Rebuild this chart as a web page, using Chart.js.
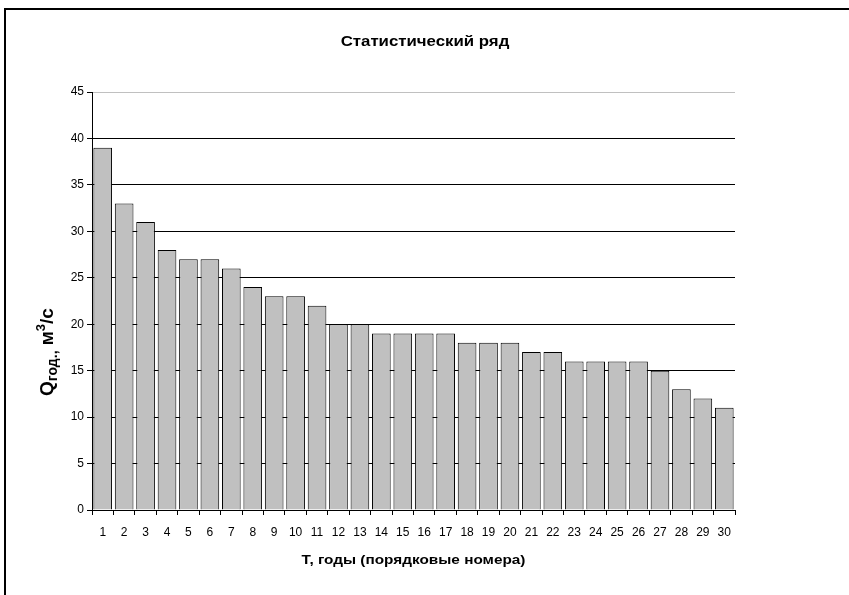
<!DOCTYPE html>
<html>
<head>
<meta charset="utf-8">
<script src="https://cdn.jsdelivr.net/npm/chart.js@4/dist/chart.umd.min.js"></script>
<style>
  html, body { margin: 0; padding: 0; background: #fff; }
  #c { display: block; }
</style>
</head>
<body>
<canvas id="c" width="849" height="595"></canvas>
<script>
// Ranked annual flow series (порядковые номера 1..30)
const years = ['1','2','3','4','5','6','7','8','9','10','11','12','13','14','15',
               '16','17','18','19','20','21','22','23','24','25','26','27','28','29','30'];
const flows = [39, 33, 31, 28, 27, 27, 26, 24, 23, 23, 22, 20, 20, 19, 19,
               19, 19, 18, 18, 18, 17, 17, 16, 16, 16, 16, 15, 13, 12, 11];
const yTickValues = [0, 5, 10, 15, 20, 25, 30, 35, 40, 45];

const chartTitle = 'Статистический ряд';
const xTitle = 'Т, годы (порядковые номера)';
const yTitleParts = [
  { text: 'Q', kind: 'main' },
  { text: 'год.,', kind: 'sub' },
  { text: ' м', kind: 'main' },
  { text: '3', kind: 'sup' },
  { text: '/с', kind: 'main' }
];

const FONT = '"Liberation Sans", Arial, sans-serif';

// Outer frame, chart title and axis titles
const decorations = {
  id: 'decorations',
  beforeDraw(chart) {
    const ctx = chart.ctx;
    ctx.save();
    ctx.fillStyle = '#fff';
    ctx.fillRect(0, 0, chart.width, chart.height);
    ctx.restore();
  },
  afterDraw(chart) {
    const ctx = chart.ctx;
    const area = chart.chartArea;
    ctx.save();
    ctx.strokeStyle = '#000';
    ctx.lineWidth = 2;
    ctx.beginPath();
    ctx.moveTo(5, chart.height);
    ctx.lineTo(5, 9);
    ctx.lineTo(chart.width, 9);
    ctx.stroke();
    ctx.fillStyle = '#000';
    ctx.textAlign = 'center';
    ctx.textBaseline = 'middle';

    // chart title
    ctx.save();
    ctx.font = 'bold 14px ' + FONT;
    ctx.translate(425, 42);
    ctx.scale(1.2, 1);
    ctx.fillText(chartTitle, 0, 0);
    ctx.restore();

    // x axis title
    ctx.save();
    ctx.font = 'bold 13px ' + FONT;
    ctx.translate((area.left + area.right) / 2, 560);
    ctx.scale(1.18, 1);
    ctx.fillText(xTitle, 0, 0);
    ctx.restore();

    // y axis title with subscript and superscript
    const fonts = {
      main: 'bold 19px ' + FONT,
      sub: 'bold 14px ' + FONT,
      sup: 'bold 13px ' + FONT
    };
    const shifts = { main: 0, sub: 4, sup: -8 };
    let total = 0;
    yTitleParts.forEach(p => { ctx.font = fonts[p.kind]; p.w = ctx.measureText(p.text).width; total += p.w; });
    ctx.translate(53, 352);
    ctx.rotate(-Math.PI / 2);
    ctx.textAlign = 'left';
    ctx.textBaseline = 'alphabetic';
    let x = -total / 2;
    yTitleParts.forEach(p => {
      ctx.font = fonts[p.kind];
      ctx.fillText(p.text, x, shifts[p.kind]);
      x += p.w;
    });
    ctx.restore();
  }
};

new Chart(document.getElementById('c'), {
  type: 'bar',
  data: {
    labels: years,
    datasets: [{
      data: flows,
      backgroundColor: '#c0c0c0',
      borderColor: '#000',
      borderWidth: 1,
      barPercentage: 0.87,
      categoryPercentage: 1.0
    }]
  },
  options: {
    responsive: false,
    animation: false,
    devicePixelRatio: 1,
    layout: { padding: { left: 0, right: 114, top: 92, bottom: 0 } },
    plugins: {
      legend: { display: false },
      tooltip: { enabled: false },
      title: { display: false }
    },
    scales: {
      x: {
        offset: true,
        grid: {
          offset: true,
          drawOnChartArea: false,
          drawTicks: true,
          tickLength: 5,
          color: '#000',
          tickColor: '#000'
        },
        border: { display: true, color: '#000', width: 1 },
        ticks: {
          color: '#000',
          font: { family: FONT, size: 12 },
          padding: 10,
          maxRotation: 0,
          autoSkip: false
        },
        afterFit(scale) { scale.height = 85; }
      },
      y: {
        min: 0,
        max: 45,
        afterBuildTicks(scale) { scale.ticks = yTickValues.map(v => ({ value: v })); },
        grid: {
          color: ctx => (ctx.tick && ctx.tick.value === 45) ? '#c0c0c0' : '#000',
          tickColor: '#000',
          tickLength: 5,
          drawTicks: true
        },
        border: { display: true, color: '#000', width: 1 },
        ticks: {
          color: '#000',
          font: { family: FONT, size: 12 },
          padding: 3
        },
        afterFit(scale) { scale.width = 92; }
      }
    }
  },
  plugins: [decorations]
});
</script>
</body>
</html>
